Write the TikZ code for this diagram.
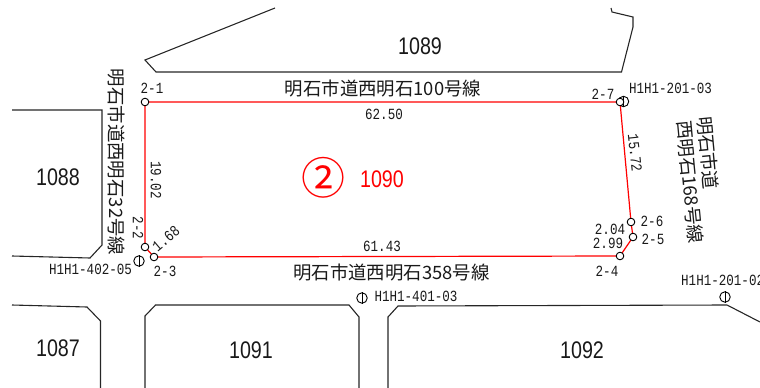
\documentclass[tikz,border=0pt]{standalone}
\usepackage{fontspec}
\newfontfamily\jp{Noto Sans CJK JP}
\newfontfamily\nar[FakeStretch=0.82]{Liberation Sans}
\newfontfamily\mon[FakeStretch=0.81]{Liberation Mono}
\tikzset{
 x=1pt,y=-1pt,
 parcel/.style={draw=black!85,line width=1.1pt,line join=miter},
 bound/.style={draw=red,line width=1.2pt},
 pt/.style={circle,draw=black,fill=white,line width=0.9pt,minimum size=7.6pt,inner sep=0pt},
 ctl/.style={circle,draw=black,line width=0.9pt,minimum size=10.5pt,inner sep=0pt},
 txt/.style={inner sep=0pt,text=black!90,font=\mon\fontsize{15.5}{17}\selectfont},
 num/.style={inner sep=0pt,text=black!90,font=\nar\fontsize{24}{26}\selectfont},
 road/.style={inner sep=0pt,text=black!90,font=\jp\fontsize{18.4}{20}\selectfont},
}
\begin{document}
\begin{tikzpicture}
\useasboundingbox (0,0) rectangle (760,388);
% parcels
\draw[parcel] (275,8) -- (145,60) -- (156,72) -- (621.5,72) -- (633,27) -- (633,17) -- (612,12) -- (611,8);
\draw[parcel] (12,110) -- (102,110) -- (102,245) -- (90,258) -- (12,256);
\draw[parcel] (12,305) -- (87,307) -- (100.5,321) -- (100.5,388);
\draw[parcel] (145,388) -- (145,316) -- (155.5,305) -- (349,305) -- (359,317) -- (359,388);
\draw[parcel] (388,388) -- (388,317) -- (398,306) -- (727,305) -- (760,322);
% control points
\node[ctl] (c1) at (139,261) {};
\node[ctl] (c2) at (623.5,101.5) {};
\node[ctl] (c3) at (362,298) {};
\node[ctl] (c4) at (725,297) {};
\foreach \c in {c1,c2,c3,c4} \draw[line width=0.9pt] (\c.north) -- (\c.south);
% boundary
\coordinate (v1) at (145,102);
\coordinate (v2) at (145,247);
\coordinate (v3) at (154,257);
\coordinate (v4) at (620,256);
\coordinate (v5) at (633,237);
\coordinate (v6) at (631,222);
\coordinate (v7) at (620,102);
\draw[bound] (v1) -- (v2) -- (v3) -- (v4) -- (v5) -- (v6) -- (v7) -- cycle;
\foreach \v/\n in {v1/p1,v2/p2,v3/p3,v4/p4,v5/p5,v6/p6,v7/p7} \node[pt] (\n) at (\v) {};
% point labels
\node[txt] at (152,88) {2-1};
\node[txt,rotate=-90] at (138,228) {2-2};
\node[txt] at (165,271) {2-3};
\node[txt] at (607,271) {2-4};
\node[txt] at (653,239) {2-5};
\node[txt] at (652,221) {2-6};
\node[txt] at (603,94) {2-7};
% distances
\node[txt] at (384,114) {62.50};
\node[txt] at (382,246) {61.43};
\node[txt,rotate=-90] at (156,180) {19.02};
\node[txt,rotate=-84] at (635,153) {15.72};
\node[txt,rotate=40] at (166,238.5) {1.68};
\node[txt] at (610,229) {2.04};
\node[txt] at (608,243) {2.99};
% control labels
\node[txt] at (90.5,269) {H1H1-402-05};
\node[txt] at (670.5,88) {H1H1-201-03};
\node[txt] at (416,296) {H1H1-401-03};
\node[txt,anchor=west] at (681,280) {H1H1-201-02};
% parcel numbers
\node[num] at (420,46) {1089};
\node[num] at (58,177) {1088};
\node[num] at (58,348) {1087};
\node[num] at (251,350) {1091};
\node[num] at (582,350) {1092};
\node[inner sep=0pt,text=red,font=\jp\fontsize{44}{46}\selectfont] at (323,178) {②};
\node[num,text=red] at (382,179) {1090};
% roads
\node[road] at (383,89) {明石市道西明石100号線};
\node[road] at (391.5,273) {明石市道西明石358号線};
\node[road,rotate=-90] at (116,162) {明石市道西明石32号線};
\node[road,rotate=-84.5] at (708,153) {明石市道};
\node[road,rotate=-84.5] at (690,182) {西明石168号線};
\end{tikzpicture}
\end{document}
